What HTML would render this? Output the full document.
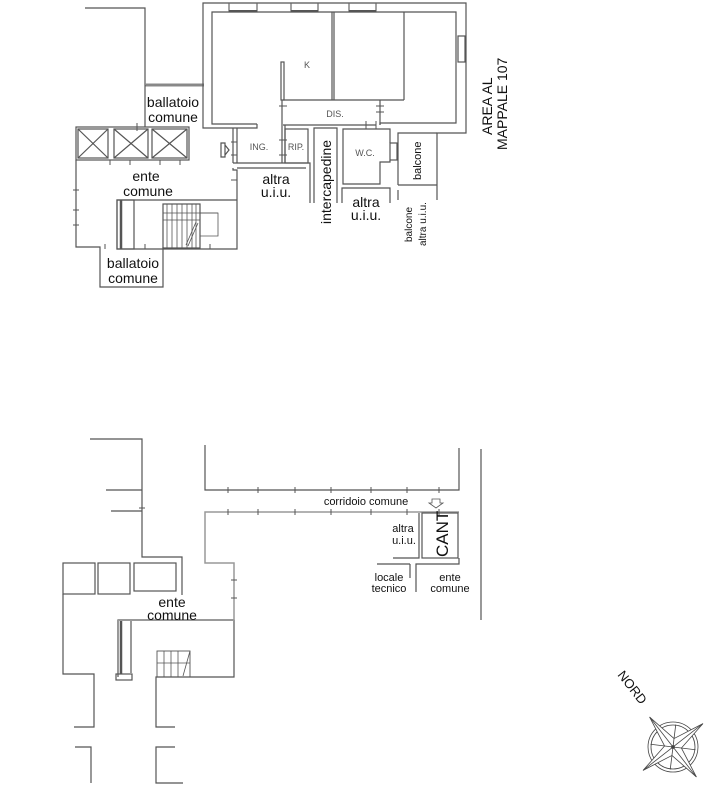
<!DOCTYPE html>
<html><head><meta charset="utf-8"><style>
html,body{margin:0;padding:0;background:#fff;width:713px;height:787px;overflow:hidden}
svg{display:block}
text{font-family:"Liberation Sans",sans-serif;fill:#111}
</style></head><body>
<svg width="713" height="787" viewBox="0 0 713 787" xmlns="http://www.w3.org/2000/svg">
<g fill="none" stroke="#555" stroke-width="1.2">
<polyline points="85,8 145,8 145,85"/>
<line x1="145" y1="85" x2="204" y2="85" stroke="#888" stroke-width="3"/>
<line x1="145" y1="85" x2="145" y2="127"/>
<polyline points="203,127 203,3 466,3 466,133 437,133 437,200"/>
<polyline points="203,127 203,128 257,128 257,124"/>
<polyline points="257,124 212,124 212,12 456,12 456,123 380,123 380,125"/>
<rect x="229" y="3" width="28" height="9" stroke="#666"/>
<rect x="291" y="3" width="27" height="9" stroke="#666"/>
<rect x="349" y="3" width="27" height="9" stroke="#666"/>
<line x1="229" y1="11" x2="257" y2="11" stroke-width="2"/>
<line x1="291" y1="11" x2="318" y2="11" stroke-width="2"/>
<line x1="349" y1="11" x2="376" y2="11" stroke-width="2"/>
<rect x="458" y="36" width="7" height="26"/>
<line x1="332" y1="12" x2="332" y2="100"/><line x1="334" y1="12" x2="334" y2="100"/>
<line x1="404" y1="12" x2="404" y2="100"/>
<line x1="283" y1="100" x2="404" y2="100"/>
<rect x="281" y="62" width="3" height="38"/>
<line x1="283" y1="125" x2="376" y2="125"/>
<line x1="380" y1="100" x2="380" y2="125"/>
<polyline points="233,163 233,128"/>
<line x1="237" y1="128" x2="237" y2="163"/>
<line x1="282" y1="100" x2="282" y2="163"/>
<line x1="285" y1="125" x2="285" y2="163"/>
<polyline points="233,163 310,163 310,203"/>
<line x1="237" y1="168" x2="306" y2="168"/>
<rect x="285" y="129" width="23" height="34"/>
<polyline points="314,203 314,128 337,128 337,203"/>
<polyline points="390,143 390,129 343,129 343,184 380,184 380,162 390,162 390,160"/>
<rect x="390" y="143" width="7" height="17"/>
<polyline points="398,185 398,133 437,133"/>
<line x1="398" y1="185" x2="437" y2="185"/>
<line x1="398" y1="190" x2="398" y2="200"/>
<polyline points="342,203 342,188 390,188 390,203"/>
<rect x="76" y="127" width="113" height="33"/>
<rect x="78" y="129" width="30" height="29"/><line x1="78" y1="129" x2="108" y2="158"/><line x1="108" y1="129" x2="78" y2="158"/>
<rect x="114" y="129" width="34" height="29"/><line x1="114" y1="129" x2="148" y2="158"/><line x1="148" y1="129" x2="114" y2="158"/>
<rect x="152" y="129" width="35" height="29"/><line x1="152" y1="129" x2="187" y2="158"/><line x1="187" y1="129" x2="152" y2="158"/>
<polyline points="76,160 76,247 100,247 100,287 163,287 163,247"/>
<polyline points="233,168 233,170 237,170 237,249 117,249 117,200 237,200"/>
<rect x="117" y="200" width="17" height="49"/>
<line x1="121" y1="200" x2="121" y2="249" stroke-width="2.5"/>
<rect x="163" y="204" width="37" height="44"/>
<g stroke-width="0.8">
<line x1="163" y1="213" x2="218" y2="213"/><line x1="163" y1="220" x2="200" y2="220"/>
<line x1="167" y1="204" x2="167" y2="248"/><line x1="172" y1="204" x2="172" y2="248"/><line x1="177" y1="204" x2="177" y2="248"/><line x1="182" y1="204" x2="182" y2="248"/><line x1="187" y1="204" x2="187" y2="248"/><line x1="192" y1="204" x2="192" y2="248"/><line x1="196" y1="204" x2="196" y2="248"/>
<polyline points="200,213 218,213 218,236 200,236"/>
<line x1="186" y1="245" x2="196" y2="222"/><line x1="188" y1="246" x2="198" y2="223"/>
</g>
<path d="M221,143 h4 v14 h-4 z M225,145 l4,5 l-4,5"/>

<polyline points="90,439 142,439 142,557 182,557 182,595"/>
<line x1="106" y1="490" x2="142" y2="490"/>
<line x1="111" y1="511" x2="142" y2="511"/>
<rect x="63" y="563" width="32" height="31"/>
<rect x="98" y="563" width="32" height="31"/>
<rect x="134" y="563" width="42" height="28"/>
<polyline points="63,594 63,674 94,674 94,727 74,727"/>
<polyline points="75,747 91,747 91,783"/>
<polyline points="175,727 156,727 156,677 234,677 234,620 118,620 118,677"/>
<polyline points="175,747 156,747 156,783 183,783"/>
<rect x="116" y="674" width="16" height="6"/>
<line x1="121" y1="620" x2="121" y2="674" stroke-width="2.5"/>
<line x1="131" y1="620" x2="131" y2="674" stroke="#999" stroke-width="2"/>
<line x1="118" y1="620" x2="234" y2="620" stroke="#999" stroke-width="2"/>
<polyline points="205,445 205,490 459,490 459,448"/>
<polyline points="459,512 205,512 205,563 234,563 234,620" stroke="#999" stroke-width="1.5"/>
<rect x="157" y="651" width="33" height="26" stroke-width="0.9"/>
<g stroke-width="0.8"><line x1="164" y1="651" x2="164" y2="677"/><line x1="171" y1="651" x2="171" y2="677"/><line x1="178" y1="651" x2="178" y2="677"/><line x1="157" y1="663" x2="190" y2="663"/><line x1="190" y1="651" x2="183" y2="676"/></g>
<rect x="422" y="513" width="36" height="45"/>
<polyline points="419,513 419,558 393,558"/>
<line x1="410" y1="564" x2="410" y2="578"/><line x1="377" y1="564" x2="410" y2="564"/>
<polyline points="416,592 416,564 459,564 459,558"/>
<line x1="481" y1="449" x2="481" y2="620"/>
<path d="M432,499 h8 v4 h3 l-7,5 l-7,-5 h3 z" stroke-width="0.8"/>
</g>
<g stroke="#555" stroke-width="1">
<path d="M228,487v6M258,487v6M295,487v6M331,487v6M371,487v6M407,487v6M439,487v6"/>
<path d="M228,509v6M258,509v6M295,509v6M331,509v6M371,509v6M407,509v6M439,509v6"/>
<path d="M139,508h6M231,580h6M231,598h6"/>
<path d="M73,190h6M73,210h6M73,225h6M231,180h6M231,142h6M231,155h6M279,140h8M279,155h8M110,165v-5M130,165v-5M160,165v-5M180,165v-5M105,249v-5M145,249v-5M210,249v-5M137,123v8M279,106h8M376,106h8M376,112h8M366,121v8M376,121v8"/>
</g>
<g font-size="14" text-anchor="middle">
<text x="173" y="107">ballatoio</text><text x="173" y="122">comune</text>
<text x="146" y="181">ente</text><text x="148" y="196">comune</text>
<text x="133" y="268">ballatoio</text><text x="133" y="283">comune</text>
<text x="276" y="184">altra</text><text x="276" y="197">u.i.u.</text>
<text x="366" y="207">altra</text><text x="366" y="220">u.i.u.</text>
<text x="172" y="607">ente</text><text x="172" y="620">comune</text>
</g>
<text x="331" y="224" font-size="14" transform="rotate(-90 331 224)">intercapedine</text>
<text x="421" y="180" font-size="11" transform="rotate(-90 421 180)">balcone</text>
<text x="412" y="242" font-size="10" transform="rotate(-90 412 242)">balcone</text>
<text x="426" y="246" font-size="10" transform="rotate(-90 426 246)">altra u.i.u.</text>
<text x="492" y="135" font-size="14" transform="rotate(-90 492 135)">AREA AL</text>
<text x="507" y="150" font-size="14" transform="rotate(-90 507 150)">MAPPALE 107</text>
<g font-size="9" text-anchor="middle">
<text x="307" y="68" style="fill:#555">K</text>
<text x="335" y="117" style="fill:#555">DIS.</text>
<text x="259" y="150" style="fill:#555">ING.</text>
<text x="296" y="150" style="fill:#555">RIP.</text>
<text x="365" y="156" style="fill:#555">W.C.</text>
</g>
<g font-size="11" text-anchor="middle">
<text x="366" y="505">corridoio comune</text>
<text x="403" y="532">altra</text><text x="404" y="544">u.i.u.</text>
<text x="389" y="581">locale</text><text x="389" y="592">tecnico</text>
<text x="450" y="581">ente</text><text x="450" y="592">comune</text>
</g>
<text x="448" y="557" font-size="17" transform="rotate(-90 448 557)">CANT</text>
<text x="617" y="675" font-size="13" transform="rotate(52 617 675)">NORD</text>
<g transform="translate(673,747)" fill="none" stroke="#444" stroke-width="0.8">
<circle r="25"/><circle r="22"/>
<g transform="rotate(-38)">
<polygon points="0,-38 6,-6 38,0 6,6 0,38 -6,6 -38,0 -6,-6" fill="#fff"/>
<line x1="0" y1="-38" x2="0" y2="38"/><line x1="-38" y1="0" x2="38" y2="0"/>
<line x1="-16" y1="-16" x2="16" y2="16"/><line x1="-16" y1="16" x2="16" y2="-16"/>
</g>
<circle r="1.5" fill="#444"/>
</g>
</svg>
</body></html>
